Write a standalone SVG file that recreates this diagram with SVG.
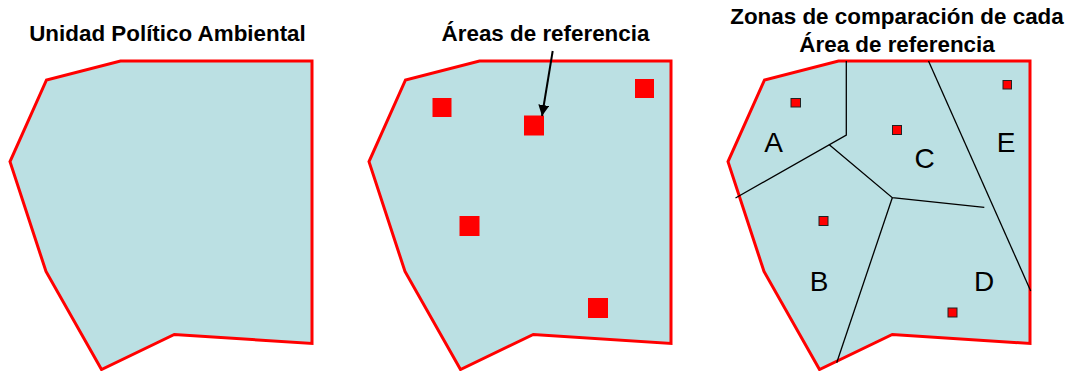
<svg xmlns="http://www.w3.org/2000/svg" width="1068" height="371" viewBox="0 0 1068 371">
<defs>
<style>
.title{font-family:"Liberation Sans",Arial,sans-serif;font-weight:bold;font-size:22.4px;fill:#000;text-anchor:middle}
.lbl{font-family:"Liberation Sans",Arial,sans-serif;font-size:28px;fill:#000;text-anchor:middle}
.area{fill:#BBE0E3;stroke:#FF0000;stroke-width:3;stroke-linejoin:miter}
.big{fill:#FF0000}
.small{fill:#FF0000;stroke:#222;stroke-width:1}
.zone{fill:none;stroke:#000;stroke-width:1.3}
</style>
<polygon id="shape" points="120.5,61 312,61 312,343.5 174.3,334.5 101.5,369.5 46,271.5 10,161.7 46.5,80"/>
<marker id="ah" viewBox="0 0 10 10" refX="10" refY="5" markerWidth="5.5" markerHeight="5.5" orient="auto" markerUnits="strokeWidth">
<path d="M0,0 L10,5 L0,10 z" fill="#000"/>
</marker>
</defs>
<rect width="1068" height="371" fill="#fff"/>

<g id="panel1">
<text class="title" x="167.5" y="41">Unidad Político Ambiental</text>
<use href="#shape" class="area"/>
</g>

<g id="panel2">
<text class="title" x="545.5" y="41">Áreas de referencia</text>
<use href="#shape" class="area" transform="translate(359,0)"/>
<rect class="big" x="432.5" y="98" width="19" height="19"/>
<rect class="big" x="524" y="115.5" width="20" height="20"/>
<rect class="big" x="635" y="79" width="19" height="19"/>
<rect class="big" x="459.5" y="216" width="20" height="20"/>
<rect class="big" x="588" y="298" width="20" height="20"/>
</g>

<g id="panel3">
<text class="title" x="897" y="24.3">Zonas de comparación de cada</text>
<text class="title" x="897" y="52.3">Área de referencia</text>
<use href="#shape" class="area" transform="translate(718,0)"/>
<rect class="small" x="791" y="98.5" width="9.5" height="8.5"/>
<rect class="small" x="892.5" y="125.5" width="9" height="9"/>
<rect class="small" x="1003" y="80.5" width="8.5" height="8.5"/>
<rect class="small" x="819" y="216.5" width="9" height="9"/>
<rect class="small" x="948" y="308" width="9" height="9"/>
<text class="lbl" x="773.5" y="151.7">A</text>
<text class="lbl" x="819" y="290.7">B</text>
<text class="lbl" x="924.5" y="168.3">C</text>
<text class="lbl" x="984" y="290.7">D</text>
<text class="lbl" x="1006" y="151.7">E</text>
</g>

<g id="connectors">
<line x1="552.7" y1="51" x2="542" y2="116" stroke="#000" stroke-width="2" marker-end="url(#ah)"/>
<g class="zone-lines">
<polyline class="zone" points="846.3,61 846.3,135 735.5,198"/>
<polyline class="zone" points="829,144.5 892.3,197.7 984.3,207.3"/>
<line class="zone" x1="892.3" y1="197.7" x2="836.7" y2="362.7"/>
<line class="zone" x1="928.5" y1="61" x2="1030.7" y2="291"/>
</g>
</g>
</svg>
